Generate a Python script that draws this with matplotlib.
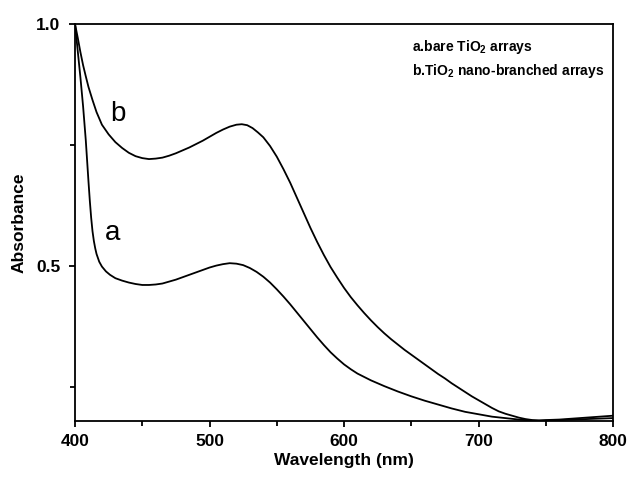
import matplotlib
matplotlib.use("Agg")
import matplotlib.pyplot as plt
from matplotlib.ticker import MultipleLocator
from matplotlib import font_manager

plt.rcParams['font.family'] = ['Liberation Sans', 'DejaVu Sans']

names = {f.name for f in font_manager.fontManager.ttflist}
legend_font = 'Liberation Sans Narrow' if 'Liberation Sans Narrow' in names else 'Liberation Sans'
legend_size = 12 if legend_font == 'Liberation Sans Narrow' else 10
plt.rcParams['mathtext.fontset'] = 'custom'
plt.rcParams['mathtext.rm'] = legend_font
plt.rcParams['mathtext.bf'] = legend_font + ':bold'

wl_a = [400, 402, 404, 406, 408, 410, 411, 412, 413, 414, 415, 416, 418, 420, 423, 426,
        430, 435, 440, 445, 450, 455, 460, 465, 470, 475, 480, 485, 490, 495, 500, 505,
        510, 515, 520, 525, 530, 535, 540, 545, 550, 555, 560, 565, 570, 575, 580, 585,
        590, 595, 600, 605, 610, 615, 620, 625, 630, 640, 650, 660, 670, 680, 690, 700,
        710, 720, 730, 740, 745, 750, 760, 770, 780, 790, 800]
abs_a = [1.0, 0.945, 0.89, 0.83, 0.76, 0.675, 0.635, 0.600, 0.572, 0.552, 0.537, 0.525,
         0.509, 0.499, 0.489, 0.482, 0.475, 0.470, 0.466, 0.463, 0.461, 0.461, 0.462,
         0.464, 0.468, 0.472, 0.477, 0.482, 0.487, 0.492, 0.497, 0.501, 0.504, 0.506,
         0.505, 0.502, 0.496, 0.488, 0.478, 0.466, 0.452, 0.437, 0.421, 0.404, 0.387,
         0.370, 0.353, 0.337, 0.322, 0.309, 0.297, 0.287, 0.278, 0.271, 0.264, 0.258,
         0.252, 0.241, 0.231, 0.222, 0.214, 0.206, 0.199, 0.194, 0.189, 0.186, 0.183,
         0.181, 0.181, 0.181, 0.182, 0.183, 0.184, 0.185, 0.186]

wl_b = [400, 402, 404, 406, 408, 410, 413, 416, 420, 425, 430, 435, 440, 445, 450, 455,
        460, 465, 470, 475, 480, 485, 490, 495, 500, 505, 510, 515, 520, 524, 528, 532,
        536, 540, 545, 550, 555, 560, 565, 570, 575, 580, 585, 590, 595, 600, 605, 610,
        615, 620, 625, 630, 635, 640, 645, 650, 655, 660, 665, 670, 675, 680, 685, 690,
        695, 700, 705, 710, 715, 720, 725, 730, 735, 740, 745, 750, 760, 770, 780, 790, 800]
abs_b = [1.0, 0.972, 0.942, 0.915, 0.892, 0.870, 0.843, 0.818, 0.792, 0.772, 0.756,
         0.744, 0.734, 0.727, 0.723, 0.721, 0.722, 0.724, 0.728, 0.733, 0.739, 0.745,
         0.752, 0.759, 0.767, 0.775, 0.782, 0.788, 0.792, 0.793, 0.791, 0.785, 0.776,
         0.766, 0.748, 0.726, 0.700, 0.672, 0.641, 0.610, 0.579, 0.550, 0.523, 0.498,
         0.476, 0.455, 0.436, 0.419, 0.403, 0.388, 0.374, 0.361, 0.349, 0.338, 0.327,
         0.317, 0.307, 0.297, 0.287, 0.277, 0.268, 0.258, 0.249, 0.240, 0.231, 0.223,
         0.215, 0.207, 0.200, 0.195, 0.191, 0.187, 0.184, 0.182, 0.181, 0.182, 0.183,
         0.185, 0.187, 0.189, 0.191]

x_ticks = [400, 500, 600, 700, 800]
y_ticks = [0.5, 1.0]
y_ticklabels = ['0.5', '1.0']
legend_lines = [r'a.bare TiO$_\mathbf{2}$ arrays', r'b.TiO$_\mathbf{2}$ nano-branched arrays']

fig = plt.figure(figsize=(6.32, 4.78), dpi=100)
ax = fig.add_axes([0.1187, 0.1192, 0.9700 - 0.1187, 0.9498 - 0.1192])

ax.plot(wl_a, abs_a, color='black', lw=1.3, solid_joinstyle='round')
ax.plot(wl_b, abs_b, color='black', lw=1.3, solid_joinstyle='round')

ax.set_xlim(400, 800)
ax.set_ylim(0.18, 1.0)
ax.set_xticks(x_ticks)
ax.set_yticks(y_ticks)
ax.set_yticklabels(y_ticklabels)
ax.xaxis.set_minor_locator(MultipleLocator(50))
ax.yaxis.set_minor_locator(MultipleLocator(0.25))
ax.tick_params(which='both', direction='out', top=False, right=False, width=1.3)
ax.tick_params(which='major', length=4.5, labelsize=12.5)
ax.tick_params(axis='x', which='major', pad=5)
ax.tick_params(axis='y', which='major', pad=6)
ax.tick_params(which='minor', length=3.5)
for lbl in ax.get_xticklabels() + ax.get_yticklabels():
    lbl.set_fontweight('bold')
for s in ax.spines.values():
    s.set_linewidth(1.3)

ax.set_xlabel('Wavelength (nm)', fontsize=12.5, fontweight='bold', labelpad=3)
ax.set_ylabel('Absorbance', fontsize=12.5, fontweight='bold', labelpad=7)

ax.text(432, 0.815, 'b', fontsize=20, ha='center', va='center')
ax.text(428, 0.568, 'a', fontsize=20, ha='center', va='center')

ax.text(0.627, 0.943, legend_lines[0], transform=ax.transAxes, family=legend_font,
        fontsize=legend_size, fontweight='bold', ha='left', va='center')
ax.text(0.627, 0.881, legend_lines[1], transform=ax.transAxes, family=legend_font,
        fontsize=legend_size, fontweight='bold', ha='left', va='center')

fig.savefig('out.png', dpi=100)
